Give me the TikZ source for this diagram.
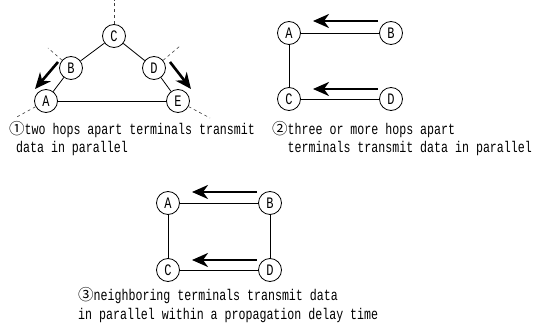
\documentclass[tikz,border=0pt]{standalone}
\usepackage{fontspec}
\newfontfamily\gothic[FakeStretch=0.75]{Liberation Mono}
\newfontfamily\cjk{Noto Sans CJK JP}
\usetikzlibrary{arrows.meta}
\tikzset{
    Terminal/.style = {draw,circle,line width=0.8pt,inner sep=0pt,minimum size=23pt,
         font=\gothic\fontsize{16}{16}\selectfont},
    Link/.style = {line width=0.8pt},
    Stub/.style = {line width=0.6pt,black!75,dash pattern=on 3pt off 3pt},
    Flow/.style = {line width=2.6pt,-{Stealth[length=16pt,width=14pt,inset=5pt]}},
    Caption/.style = {anchor=base west,inner sep=0pt,font=\gothic\fontsize{15.5}{19}\selectfont}
}

\begin{document}
\begin{tikzpicture}[x=1pt,y=-1pt]
    \useasboundingbox (0,0) rectangle (536,329);
    % two hops apart
    \node[Terminal] (c1) at (114,36) {C};
    \node[Terminal] (b1) at (71,68) {B};
    \node[Terminal] (d1) at (154,68) {D};
    \node[Terminal] (a1) at (46,101) {A};
    \node[Terminal] (e1) at (178,101) {E};
    \foreach \X/\Y in {c1/b1,b1/a1,a1/e1,e1/d1,d1/c1}
        {\draw[Link] (\X) -- (\Y);}
    \coordinate (sc1) at (114,0);
    \coordinate (sb1) at (48,48);
    \coordinate (sd1) at (180,46);
    \coordinate (sa1) at (15,118);
    \coordinate (se1) at (210,118);
    \foreach \X in {a1,b1,c1,d1,e1}
        {\draw[Stub] (\X) -- (s\X);}
    \coordinate (fb1) at (58,62);
    \coordinate (ta1) at (35,89);
    \coordinate (fd1) at (170,62);
    \coordinate (te1) at (191,89);
    \draw[Flow] (fb1) -- (ta1);
    \draw[Flow] (fd1) -- (te1);
    \node[Caption] (cap1a) at (9,134) {{\cjk ①}two hops apart terminals transmit};
    \node[Caption] (cap1b) at (9,153) {~data in parallel};
    % three or more hops apart
    \node[Terminal] (a2) at (289,33) {A};
    \node[Terminal] (b2) at (391,33) {B};
    \node[Terminal] (c2) at (289,99) {C};
    \node[Terminal] (d2) at (391,99) {D};
    \foreach \X/\Y in {a2/b2,a2/c2,c2/d2}
        {\draw[Link] (\X) -- (\Y);}
    \coordinate (fb2) at (378,21);
    \coordinate (ta2) at (313,21);
    \coordinate (fd2) at (378,89);
    \coordinate (tc2) at (313,89);
    \draw[Flow] (fb2) -- (ta2);
    \draw[Flow] (fd2) -- (tc2);
    \node[Caption] (cap2a) at (272,134) {{\cjk ②}three or more hops apart};
    \node[Caption] (cap2b) at (272,153) {\phantom{\cjk ②}terminals transmit data in parallel};
    % neighboring terminals
    \node[Terminal] (a3) at (168,203) {A};
    \node[Terminal] (b3) at (270,203) {B};
    \node[Terminal] (c3) at (168,270) {C};
    \node[Terminal] (d3) at (270,270) {D};
    \foreach \X/\Y in {a3/b3,b3/d3,d3/c3,c3/a3}
        {\draw[Link] (\X) -- (\Y);}
    \coordinate (fb3) at (257,192);
    \coordinate (ta3) at (192,192);
    \coordinate (fd3) at (257,260);
    \coordinate (tc3) at (192,260);
    \draw[Flow] (fb3) -- (ta3);
    \draw[Flow] (fd3) -- (tc3);
    \node[Caption] (cap3a) at (78,300) {{\cjk ③}neighboring terminals transmit data};
    \node[Caption] (cap3b) at (78,319) {in parallel within a propagation delay time};
\end{tikzpicture}
\end{document}
